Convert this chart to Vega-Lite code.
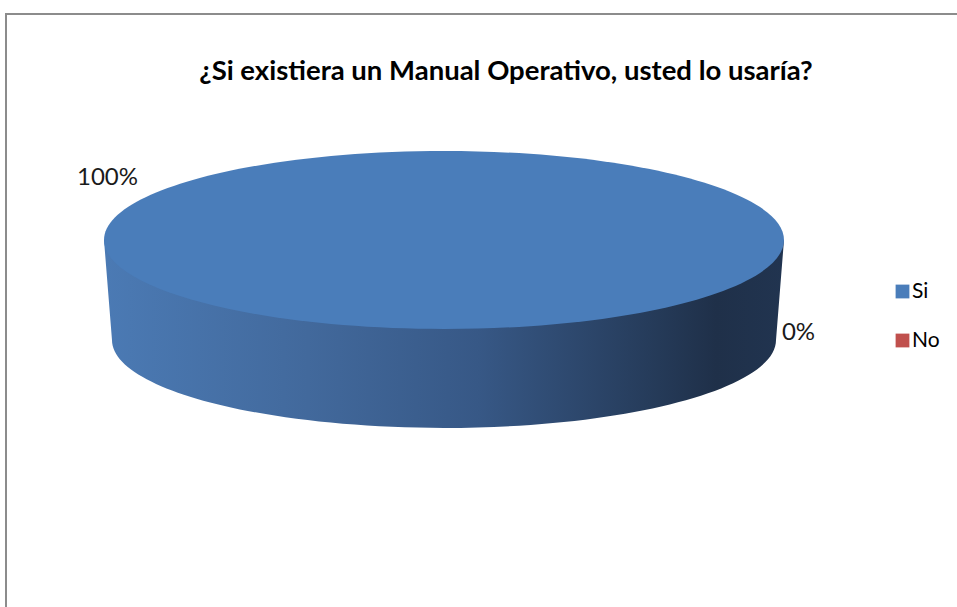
{
  "$schema": "https://vega.github.io/schema/vega-lite/v6.json",
  "autosize": {"type": "none"},
  "padding": {"left": 6, "top": 14, "right": 0, "bottom": 0},
  "width": 951,
  "height": 593,
  "background": "#ffffff",
  "view": {"stroke": "#8c8c8c", "strokeWidth": 2, "strokeDash": [951, 1544, 593]},
  "config": {
    "font": "Lato"
  },
  "title": {
    "text": "¿Si existiera un Manual Operativo, usted lo usaría?",
    "font": "Lato",
    "fontSize": 27.5,
    "fontWeight": "bold",
    "color": "#000000",
    "anchor": "middle",
    "frame": "group",
    "offset": 0,
    "dx": 24.5,
    "dy": 93,
    "baseline": "alphabetic"
  },
  "data": {
    "values": [
      {"respuesta": "Si", "porcentaje": 1},
      {"respuesta": "No", "porcentaje": 0}
    ]
  },
  "layer": [
    {
      "transform": [{"filter": "datum.porcentaje > 0"}],
      "mark": {
        "type": "point",
        "filled": true,
        "opacity": 1,
        "strokeWidth": 0,
        "size": 462400,
        "shape": "M-1.1103,-0.2074L-1.0868,0.0866C-1.0868,0.2295,-0.6496,0.3454,-0.1103,0.3454C0.4290,0.3454,0.8662,0.2295,0.8662,0.0866L0.8897,-0.2074Z",
        "fill": {
          "gradient": "linear",
          "x1": 0, "y1": 0, "x2": 1, "y2": 0,
          "stops": [
            {"offset": 0, "color": "#4B7AB4"},
            {"offset": 0.3, "color": "#42699C"},
            {"offset": 0.55, "color": "#375886"},
            {"offset": 0.8, "color": "#263C5B"},
            {"offset": 0.9, "color": "#1F3049"},
            {"offset": 1, "color": "#213450"}
          ]
        }
      },
      "encoding": {}
    },
    {
      "transform": [{"filter": "datum.porcentaje > 0"}],
      "mark": {
        "type": "point",
        "filled": true,
        "opacity": 1,
        "strokeWidth": 0,
        "size": 462400,
        "shape": "M-1.1103,-0.2074C-1.1103,-0.3520,-0.6626,-0.4692,-0.1103,-0.4692C0.4420,-0.4692,0.8897,-0.3520,0.8897,-0.2074C0.8897,-0.0628,0.4420,0.0544,-0.1103,0.0544C-0.6626,0.0544,-1.1103,-0.0628,-1.1103,-0.2074Z"
      },
      "encoding": {
        "color": {
          "field": "respuesta",
          "type": "nominal",
          "scale": {"domain": ["Si", "No"], "range": ["#4A7DBA", "#C0504D"]},
          "legend": {
            "orient": "none",
            "legendX": 886,
            "legendY": 267,
            "title": null,
            "symbolType": "square",
            "symbolSize": 190,
            "symbolStrokeWidth": 0,
            "labelFont": "Lato",
            "labelFontSize": 21,
            "labelColor": "#000000",
            "labelOffset": -1,
            "rowPadding": 27,
            "padding": 0
          }
        }
      }
    },
    {
      "mark": {
        "type": "text",
        "font": "Lato",
        "fontSize": 24,
        "color": "#1a1a1a",
        "align": "center",
        "baseline": "alphabetic",
        "radius": 354.1,
        "dx": -28.5,
        "dy": -48
      },
      "encoding": {
        "theta": {
          "field": "porcentaje",
          "type": "quantitative",
          "stack": true,
          "scale": {"range": [1.7914, 8.0746]}
        },
        "detail": {"field": "respuesta"},
        "text": {"field": "porcentaje", "type": "quantitative", "format": ".0%"}
      }
    }
  ]
}
